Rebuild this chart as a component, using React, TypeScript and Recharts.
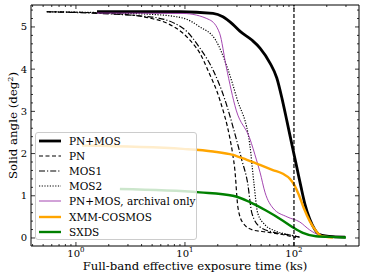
import React from 'react';
import { LineChart, Line, XAxis, YAxis, ReferenceLine, Legend, Label } from 'recharts';

const FONT = '"DejaVu Serif", "Liberation Serif", serif';

// exposure time (ks) vs solid angle (deg^2)
const pnMosTime = [1.56, 9.0, 18.1, 22.3, 27.5, 31.9, 41.1, 48.8, 60.1, 69.6, 77.9, 86.5, 96, 106.5, 116, 125.8, 139.5, 154.6, 171.5, 228, 295];
const pnMosArea = [5.36, 5.36, 5.32, 5.24, 5.06, 4.9, 4.69, 4.5, 4.15, 3.79, 3.29, 2.75, 2.2, 1.66, 1.21, 0.81, 0.45, 0.21, 0.08, 0.03, 0.02];

const pnTime = [0.54, 2.38, 4.77, 6.83, 9.6, 11.8, 13.7, 16.2, 20.9, 25.8, 27.5, 28.7, 30.6, 34, 41.9, 56.5, 74.6, 104];
const pnArea = [5.36, 5.31, 5.21, 5.09, 4.85, 4.61, 4.38, 3.98, 3.27, 2.37, 1.97, 1.61, 0.73, 0.36, 0.19, 0.14, 0.09, 0.01];

const mos1Time = [0.54, 4.77, 9.6, 13.7, 18.1, 23.3, 29.4, 33.2, 37.6, 41.1, 48.8, 64, 91.9, 113];
const mos1Area = [5.36, 5.24, 4.97, 4.5, 3.98, 3.27, 2.37, 1.85, 1.3, 0.59, 0.26, 0.14, 0.07, 0.02];

const mos2Time = [0.54, 4.77, 9.6, 13.7, 19, 24.9, 30, 39.4, 42.9, 46.5, 54.3, 67, 92, 113];
const mos2Area = [5.36, 5.3, 5.21, 5.0, 4.7, 3.98, 3.3, 2.2, 1.3, 0.59, 0.31, 0.17, 0.07, 0.02];

const archTime = [1.56, 9.6, 16.8, 20.8, 23.9, 29.5, 39.3, 45.3, 48.8, 54.4, 64.1, 86.5, 113, 139.5, 171.5, 248];
const archArea = [5.33, 5.32, 5.17, 4.85, 4.06, 3.03, 2.36, 1.85, 1.56, 1.07, 0.71, 0.5, 0.38, 0.19, 0.07, 0.02];

const cosmosTime = [1.135, 9.6, 18.1, 27.5, 37, 48.8, 64, 79.2, 91.9, 102, 111, 123, 139.5, 159, 177, 228];
const cosmosArea = [2.19, 2.11, 2.05, 1.97, 1.85, 1.73, 1.61, 1.52, 1.4, 1.23, 1.02, 0.71, 0.4, 0.17, 0.05, 0.01];

const sxdsTime = [2.53, 13.7, 27.5, 39.4, 55.4, 79.2, 98.1, 120.7, 159, 242, 300];
const sxdsArea = [1.16, 1.08, 1.0, 0.85, 0.65, 0.41, 0.25, 0.12, 0.04, 0.02, 0.01];

const xMajor = [1, 10, 100];
const xTicks = [0.4, 0.5, 0.6, 0.7, 0.8, 0.9, 1, 2, 3, 4, 5, 6, 7, 8, 9, 10, 20, 30, 40, 50, 60, 70, 80, 90, 100, 200, 300];
const yMajor = [0, 1, 2, 3, 4, 5];
const yTicks = [0, 0.2, 0.4, 0.6, 0.8, 1, 1.2, 1.4, 1.6, 1.8, 2, 2.2, 2.4, 2.6, 2.8, 3, 3.2, 3.4, 3.6, 3.8, 4, 4.2, 4.4, 4.6, 4.8, 5, 5.2, 5.4];

const toPoints = (t: number[], a: number[]) => t.map((x, i) => ({ x, y: a[i] }));

const series = [
  { name: 'PN+MOS', data: toPoints(pnMosTime, pnMosArea), color: '#000', width: 2.8, dash: undefined },
  { name: 'PN', data: toPoints(pnTime, pnArea), color: '#000', width: 1.2, dash: '4 2.5' },
  { name: 'MOS1', data: toPoints(mos1Time, mos1Area), color: '#000', width: 1.2, dash: '6 2 1.2 2' },
  { name: 'MOS2', data: toPoints(mos2Time, mos2Area), color: '#000', width: 1.2, dash: '1.2 1.5' },
  { name: 'PN+MOS, archival only', data: toPoints(archTime, archArea), color: '#9a32a8', width: 0.9, dash: undefined },
  { name: 'XMM-COSMOS', data: toPoints(cosmosTime, cosmosArea), color: '#ffa500', width: 2.4, dash: undefined },
  { name: 'SXDS', data: toPoints(sxdsTime, sxdsArea), color: '#008000', width: 2.4, dash: undefined },
];

const X_DOMAIN = [0.387, 395];
const Y_DOMAIN = [-0.19, 5.52];

const BottomTick = ({ x, y, payload }: any) => {
  const major = xMajor.includes(payload.value);
  const exp = Math.round(Math.log10(payload.value));
  return (
    <g>
      <line x1={x} y1={y} x2={x} y2={y - (major ? 4 : 2)} stroke="#000" strokeWidth={0.8} />
      {major && (
        <text x={x} y={y + 10.5} textAnchor="middle" fontSize={10} fontFamily={FONT} fill="#000">
          10<tspan dy={-4.5} fontSize={7}>{exp}</tspan>
        </text>
      )}
    </g>
  );
};

const TopTick = ({ x, y, payload }: any) => {
  const major = xMajor.includes(payload.value);
  return <line x1={x} y1={y} x2={x} y2={y + (major ? 4 : 2)} stroke="#000" strokeWidth={0.8} />;
};

const LeftTick = ({ x, y, payload }: any) => {
  const major = yMajor.includes(payload.value);
  return (
    <g>
      <line x1={x} y1={y} x2={x + (major ? 4 : 2)} y2={y} stroke="#000" strokeWidth={0.8} />
      {major && (
        <text x={x - 4} y={y + 3.5} textAnchor="end" fontSize={10} fontFamily={FONT} fill="#000">
          {payload.value}
        </text>
      )}
    </g>
  );
};

const RightTick = ({ x, y, payload }: any) => {
  const major = yMajor.includes(payload.value);
  return <line x1={x} y1={y} x2={x - (major ? 4 : 2)} y2={y} stroke="#000" strokeWidth={0.8} />;
};

const renderLegend = () => (
  <div
    style={{
      width: 162,
      height: 108,
      boxSizing: 'border-box',
      border: '1px solid #cccccc',
      borderRadius: 3,
      background: 'rgba(255,255,255,0.8)',
      fontFamily: FONT,
      fontSize: 10.5,
      color: '#000',
    }}
  >
    {series.map((s) => (
      <div key={s.name} style={{ display: 'flex', alignItems: 'center', height: 15.2, whiteSpace: 'nowrap' }}>
        <svg width={29} height={8} style={{ flex: 'none' }}>
          <line x1={3} x2={25} y1={4} y2={4} stroke={s.color} strokeWidth={s.width} strokeDasharray={s.dash} />
        </svg>
        <span style={{ marginLeft: 4 }}>{s.name}</span>
      </div>
    ))}
  </div>
);

export default function App() {
  return (
    <div style={{ position: 'absolute', left: 0, top: 0, width: 366, height: 278, background: '#fff' }}>
      <LineChart width={366} height={278} margin={{ top: 4, right: 6, bottom: 31, left: 30 }}>
        <XAxis
          xAxisId="bottom"
          dataKey="x"
          type="number"
          scale="log"
          domain={X_DOMAIN}
          allowDataOverflow
          ticks={xTicks}
          interval={0}
          height={1}
          tickSize={0}
          tickMargin={0}
          tickLine={false}
          tick={BottomTick}
          axisLine={{ stroke: '#000', strokeWidth: 1 }}
        >
          <Label
            content={({ viewBox }: any) => (
              <text x={viewBox.x + viewBox.width / 2} y={270} textAnchor="middle" fontSize={11.7} fontFamily={FONT} fill="#000">
                Full-band effective exposure time (ks)
              </text>
            )}
          />
        </XAxis>
        <XAxis
          xAxisId="top"
          orientation="top"
          dataKey="x"
          type="number"
          scale="log"
          domain={X_DOMAIN}
          allowDataOverflow
          ticks={xTicks}
          interval={0}
          height={1}
          tickSize={0}
          tickMargin={0}
          tickLine={false}
          tick={TopTick}
          axisLine={{ stroke: '#000', strokeWidth: 1 }}
        />
        <YAxis
          yAxisId="left"
          type="number"
          domain={Y_DOMAIN}
          allowDataOverflow
          ticks={yTicks}
          interval={0}
          width={1}
          tickSize={0}
          tickMargin={0}
          tickLine={false}
          tick={LeftTick}
          axisLine={{ stroke: '#000', strokeWidth: 1 }}
        >
          <Label
            content={({ viewBox }: any) => {
              const cy = viewBox.y + viewBox.height / 2;
              return (
                <text x={17} y={cy} transform={`rotate(-90 17 ${cy})`} textAnchor="middle" fontSize={11.8} fontFamily={FONT} fill="#000">
                  Solid angle (deg<tspan dy={-4.5} fontSize={8}>2</tspan><tspan dy={4.5}>)</tspan>
                </text>
              );
            }}
          />
        </YAxis>
        <YAxis
          yAxisId="right"
          orientation="right"
          type="number"
          domain={Y_DOMAIN}
          allowDataOverflow
          ticks={yTicks}
          interval={0}
          width={1}
          tickSize={0}
          tickMargin={0}
          tickLine={false}
          tick={RightTick}
          axisLine={{ stroke: '#000', strokeWidth: 1 }}
        />
        {series.map((s) => (
          <Line
            key={s.name}
            xAxisId="bottom"
            yAxisId="left"
            data={s.data}
            dataKey="y"
            name={s.name}
            type="monotone"
            stroke={s.color}
            strokeWidth={s.width}
            strokeDasharray={s.dash}
            dot={false}
            activeDot={false}
            isAnimationActive={false}
          />
        ))}
        <ReferenceLine xAxisId="bottom" yAxisId="left" x={100} stroke="#000" strokeWidth={1.2} strokeDasharray="4 2" />
        <Legend
          layout="vertical"
          align="center"
          verticalAlign="middle"
          content={renderLegend}
          wrapperStyle={{ left: 35, top: 132, width: 162, height: 108 }}
        />
      </LineChart>
    </div>
  );
}
